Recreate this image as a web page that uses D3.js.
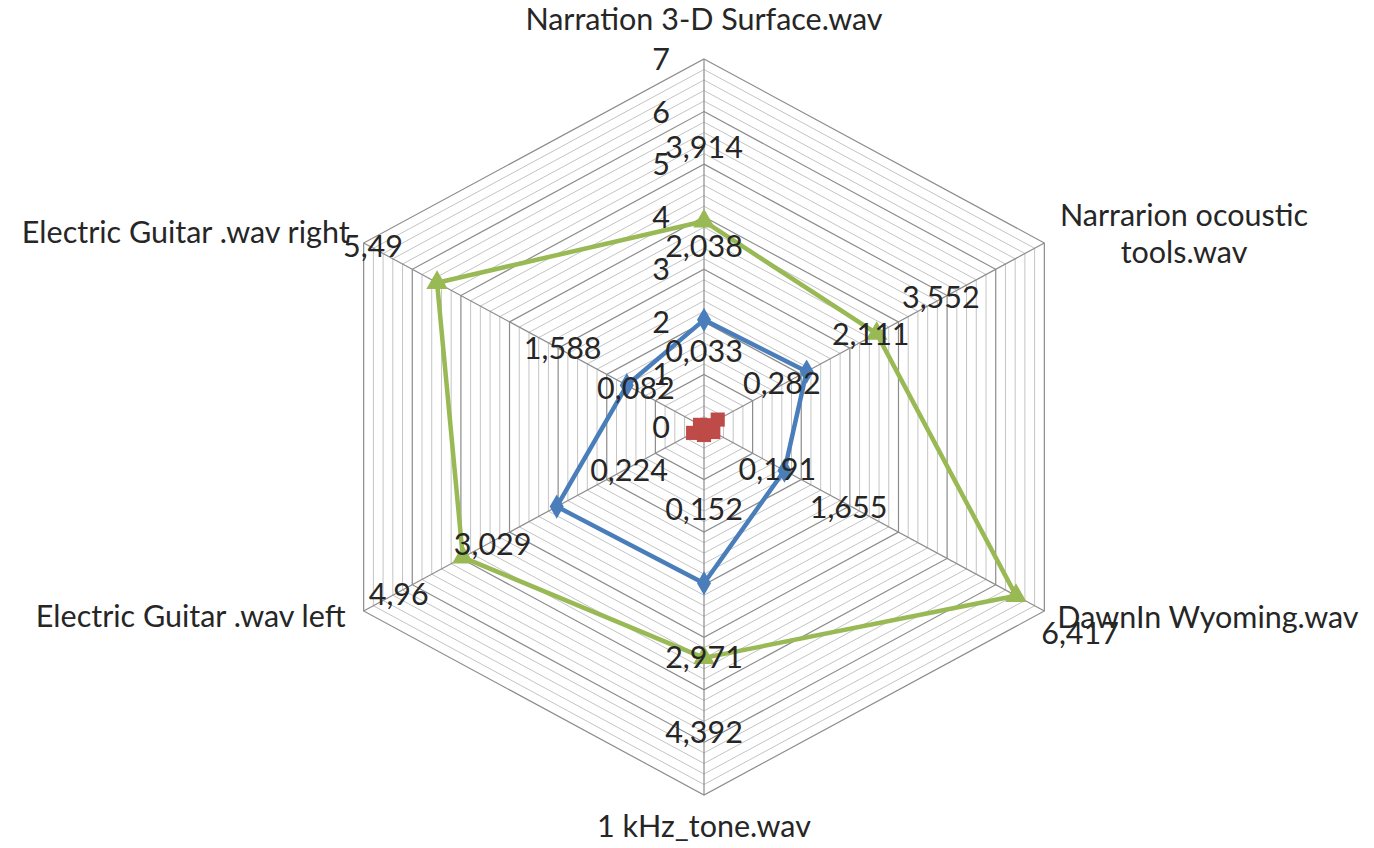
<!DOCTYPE html>
<html>
<head>
<meta charset="utf-8">
<script src="https://cdn.jsdelivr.net/npm/d3@7"></script>
<style>
  html, body { margin: 0; padding: 0; background: #ffffff; }
  svg { display: block; }
  text { font-family: Lato, "Open Sans", sans-serif; fill: #262626; }
</style>
</head>
<body>
<svg id="chart" width="1374" height="848"></svg>
<script>
// Axes of the radar (clockwise from the top)
const categories = [
  "Narration 3-D Surface.wav",
  "Narrarion ocoustic tools.wav",
  "DawnIn Wyoming.wav",
  "1 kHz_tone.wav",
  "Electric Guitar .wav left",
  "Electric Guitar .wav right"
];

// Series values, one per axis
const seriesBlue  = [2.038, 2.111, 1.655, 2.971, 3.029, 1.588];
const seriesRed   = [0.033, 0.282, 0.191, 0.152, 0.224, 0.082];
const seriesGreen = [3.914, 3.552, 6.417, 4.392, 4.96, 5.49];

// Radial tick labels
const tickValues = [0, 1, 2, 3, 4, 5, 6, 7];

const svg = d3.select("#chart");
const cx = 704, cy = 427;
const maxVal = 7;
const fontSize = 30.5;

// Horizontal and vertical radial scales (the plot is slightly wider than tall)
const rx = d3.scaleLinear().domain([0, maxVal]).range([0, 393]);
const ry = d3.scaleLinear().domain([0, maxVal]).range([0, 368]);

const n = categories.length;
const angle = i => (i / n) * 2 * Math.PI;
const px = (i, v) => cx + Math.sin(angle(i)) * rx(v);
const py = (i, v) => cy - Math.cos(angle(i)) * ry(v);

const g = svg.append("g");

// Minor and major hexagonal grid rings
const gridVals = d3.range(0, maxVal + 0.001, 0.2).map(v => Math.round(v * 10) / 10).filter(v => v > 0);
gridVals.forEach(v => {
  const major = Math.abs(v - Math.round(v)) < 1e-6;
  const pts = d3.range(n).map(i => [px(i, v), py(i, v)]);
  g.append("path")
    .attr("d", d3.line()(pts) + "Z")
    .attr("fill", "none")
    .attr("stroke", major ? "#8c8c8c" : "#c4c4c4")
    .attr("stroke-width", major ? 1.2 : 1);
});

// Spokes
d3.range(n).forEach(i => {
  g.append("line")
    .attr("x1", cx).attr("y1", cy)
    .attr("x2", px(i, maxVal)).attr("y2", py(i, maxVal))
    .attr("stroke", "#8c8c8c").attr("stroke-width", 1.2);
});

// Tick labels along the top axis
g.selectAll("text.tick").data(tickValues).enter().append("text")
  .attr("class", "tick")
  .attr("x", cx - 34)
  .attr("y", d => cy - ry(d))
  .attr("dy", "0.36em")
  .attr("text-anchor", "end")
  .attr("font-size", fontSize)
  .text(d => d);

// Category labels placed around the outer ring
const catLayout = [
  { anchor: "middle", x: px(0, maxVal), y: 30 },
  { anchor: "middle", x: 1184, y: 226, lines: ["Narrarion ocoustic", "tools.wav"] },
  { anchor: "start", x: px(2, maxVal) + 13, y: 628 },
  { anchor: "middle", x: px(3, maxVal), y: 837 },
  { anchor: "end", x: px(4, maxVal) - 18, y: 627 },
  { anchor: "end", x: px(5, maxVal) - 14, y: 243 }
];
categories.forEach((c, i) => {
  const L = catLayout[i];
  const t = g.append("text")
    .attr("x", L.x).attr("y", L.y)
    .attr("text-anchor", L.anchor)
    .attr("font-size", fontSize);
  if (L.lines) {
    L.lines.forEach((s, k) => {
      t.append("tspan").attr("x", L.x).attr("dy", k === 0 ? 0 : 37).text(s);
    });
  } else {
    t.text(c);
  }
});

const series = [
  { values: seriesBlue,  color: "#4a7ebb", marker: d3.symbolDiamond,  size: 170 },
  { values: seriesRed,   color: "#be4b48", marker: d3.symbolSquare,   size: 200 },
  { values: seriesGreen, color: "#98b954", marker: d3.symbolTriangle, size: 200 }
];

const lineGen = d3.line().x(d => d[0]).y(d => d[1]);

series.forEach(s => {
  const pts = s.values.map((v, i) => [px(i, v), py(i, v)]);
  g.append("path")
    .attr("d", lineGen(pts) + "Z")
    .attr("fill", "none")
    .attr("stroke", s.color)
    .attr("stroke-width", 4.5)
    .attr("stroke-linejoin", "round");
  g.selectAll(null).data(pts).enter().append("path")
    .attr("transform", d => `translate(${d[0]},${d[1]})`)
    .attr("d", d3.symbol().type(s.marker).size(s.size))
    .attr("fill", s.color);
});

// Data labels pushed radially outward from each point
const labelOffset = 74;
series.forEach(s => {
  s.values.forEach((v, i) => {
    const a = angle(i);
    const x = px(i, v) + Math.sin(a) * labelOffset;
    const y = py(i, v) - Math.cos(a) * labelOffset;
    g.append("text")
      .attr("x", x).attr("y", y)
      .attr("dy", "0.36em")
      .attr("text-anchor", "middle")
      .attr("font-size", fontSize)
      .text(String(v).replace(".", ","));
  });
});
</script>
</body>
</html>
